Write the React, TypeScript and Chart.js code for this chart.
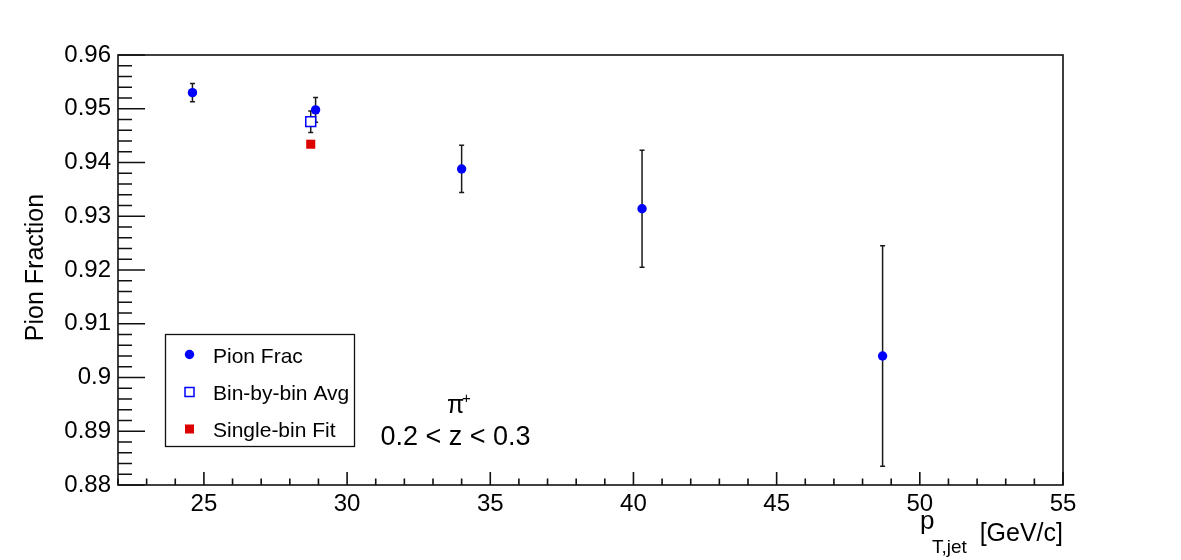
import React, { useEffect, useRef } from 'react';
import { Chart, registerables } from 'chart.js';

Chart.register(...registerables);

// ---- data ----
const pionX = [24.6, 28.9, 34.0, 40.3, 48.7];
const pionY = [0.953, 0.9498, 0.9388, 0.9314, 0.904];
const pionErr = [0.0017, 0.0023, 0.0044, 0.0109, 0.0205];

const avgX = [28.73];
const avgY = [0.9476];
const avgErr = [0.002];

const fitX = [28.73];
const fitY = [0.9434];

const xTickValues = [25, 30, 35, 40, 45, 50, 55];
const yTickValues = [0.88, 0.89, 0.9, 0.91, 0.92, 0.93, 0.94, 0.95, 0.96];

const legendLabels = ['Pion Frac', 'Bin-by-bin Avg', 'Single-bin Fit'];
const yTitle = 'Pion Fraction';
const annotationLine1 = 'π';
const annotationSup = '+';
const annotationLine2 = '0.2 < z < 0.3';

const X_MIN = 22;
const X_MAX = 55;
const Y_MIN = 0.88;
const Y_MAX = 0.96;

const BLUE = '#0000ff';
const RED = '#dd0000';
const INK = '#111111';
const FONT = '"Liberation Sans", Arial, Helvetica, sans-serif';

const rootStyle = {
  id: 'rootStyle',
  beforeDatasetsDraw(chart: any) {
    const ctx = chart.ctx as CanvasRenderingContext2D;
    const xs = chart.scales.x;
    const ys = chart.scales.y;
    ctx.save();
    ctx.strokeStyle = '#1a1a1a';
    ctx.lineWidth = 1.5;
    const drawErr = (xv: number[], yv: number[], ev: number[]) => {
      xv.forEach((x, i) => {
        const px = xs.getPixelForValue(x);
        const pTop = ys.getPixelForValue(yv[i] + ev[i]);
        const pBot = ys.getPixelForValue(yv[i] - ev[i]);
        ctx.beginPath();
        ctx.moveTo(px, pTop);
        ctx.lineTo(px, pBot);
        ctx.moveTo(px - 2.5, pTop);
        ctx.lineTo(px + 2.5, pTop);
        ctx.moveTo(px - 2.5, pBot);
        ctx.lineTo(px + 2.5, pBot);
        ctx.stroke();
      });
    };
    drawErr(avgX, avgY, avgErr);
    drawErr(pionX, pionY, pionErr);
    ctx.restore();
  },
  afterDatasetsDraw(chart: any) {
    const ctx = chart.ctx as CanvasRenderingContext2D;
    const xs = chart.scales.x;
    const ys = chart.scales.y;
    const { left, right, top, bottom } = chart.chartArea;
    ctx.save();
    // frame
    ctx.strokeStyle = INK;
    ctx.lineWidth = 1.6;
    ctx.strokeRect(left, top, right - left, bottom - top);
    // x ticks
    ctx.beginPath();
    for (let v = Math.ceil(X_MIN); v <= X_MAX; v++) {
      const px = xs.getPixelForValue(v);
      const len = v % 5 === 0 ? 13 : 6.5;
      ctx.moveTo(px, bottom);
      ctx.lineTo(px, bottom - len);
    }
    // y ticks
    const nMinor = Math.round((Y_MAX - Y_MIN) / 0.002);
    for (let k = 0; k <= nMinor; k++) {
      const v = Y_MIN + k * 0.002;
      const py = ys.getPixelForValue(v);
      const len = k % 5 === 0 ? 27 : 14;
      ctx.moveTo(left, py);
      ctx.lineTo(left + len, py);
    }
    ctx.stroke();

    // legend
    const lx = 165.5, ly = 334.5, lw = 189, lh = 112;
    ctx.fillStyle = '#fff';
    ctx.fillRect(lx, ly, lw, lh);
    ctx.lineWidth = 1.3;
    ctx.strokeStyle = INK;
    ctx.strokeRect(lx, ly, lw, lh);
    const mx = 189.5;
    // circle
    ctx.fillStyle = BLUE;
    ctx.beginPath();
    ctx.arc(mx, 354.5, 4.7, 0, Math.PI * 2);
    ctx.fill();
    // open square
    ctx.strokeStyle = BLUE;
    ctx.lineWidth = 1.5;
    ctx.strokeRect(mx - 4.5, 392 - 4.5, 9, 9);
    // red square
    ctx.fillStyle = RED;
    ctx.fillRect(mx - 4.5, 429 - 4.5, 9, 9);

    ctx.fillStyle = '#000';
    ctx.font = `21px ${FONT}`;
    ctx.textAlign = 'left';
    ctx.textBaseline = 'alphabetic';
    ctx.fillText(legendLabels[0], 213, 363);
    ctx.fillText(legendLabels[1], 213, 400);
    ctx.fillText(legendLabels[2], 213, 437);

    // annotation
    ctx.font = `25px ${FONT}`;
    ctx.fillText(annotationLine1, 447, 413);
    ctx.font = `15px ${FONT}`;
    ctx.fillText(annotationSup, 462, 403);
    ctx.font = `27px ${FONT}`;
    ctx.textAlign = 'center';
    ctx.fillText(annotationLine2, 455.5, 445);

    // x title
    ctx.textAlign = 'left';
    ctx.font = `26px ${FONT}`;
    ctx.fillText('p', 920, 529);
    ctx.font = `19px ${FONT}`;
    ctx.fillText('T,jet', 932, 553);
    ctx.textAlign = 'right';
    ctx.font = `25px ${FONT}`;
    ctx.fillText('[GeV/c]', 1063, 541);

    // y title
    ctx.save();
    ctx.translate(42.5, 267.5);
    ctx.rotate(-Math.PI / 2);
    ctx.textAlign = 'center';
    ctx.font = `25px ${FONT}`;
    ctx.fillText(yTitle, 0, 0);
    ctx.restore();

    ctx.restore();
  },
};

export default function App() {
  const ref = useRef<HTMLCanvasElement>(null);
  useEffect(() => {
    const canvas = ref.current!;
    const tickFont = { family: FONT, size: 24 };
    const chart = new Chart(canvas, {
      type: 'scatter',
      data: {
        datasets: [
          {
            label: legendLabels[0],
            data: pionX.map((x, i) => ({ x, y: pionY[i] })),
            pointStyle: 'circle',
            pointRadius: 4.7,
            backgroundColor: BLUE,
            borderColor: BLUE,
            borderWidth: 0,
          },
          {
            label: legendLabels[1],
            data: avgX.map((x, i) => ({ x, y: avgY[i] })),
            pointStyle: 'rect',
            pointRadius: 7,
            backgroundColor: '#ffffff',
            borderColor: BLUE,
            borderWidth: 1.5,
          },
          {
            label: legendLabels[2],
            data: fitX.map((x, i) => ({ x, y: fitY[i] })),
            pointStyle: 'rect',
            pointRadius: 6.4,
            backgroundColor: RED,
            borderColor: RED,
            borderWidth: 0,
          },
        ],
      },
      options: {
        animation: false,
        responsive: false,
        events: [],
        layout: { padding: { top: 55, right: 118, left: 0, bottom: 0 } },
        plugins: { legend: { display: false }, tooltip: { enabled: false } },
        scales: {
          x: {
            type: 'linear',
            min: X_MIN,
            max: X_MAX,
            grid: { display: false, drawTicks: false },
            border: { display: false },
            afterBuildTicks: (s: any) => {
              s.ticks = xTickValues.map((v) => ({ value: v }));
            },
            afterFit: (s: any) => {
              s.height = 75;
            },
            ticks: {
              font: tickFont,
              color: '#000',
              padding: 5,
              maxRotation: 0,
              autoSkip: false,
              callback: (v: any) => String(v),
            },
          },
          y: {
            type: 'linear',
            min: Y_MIN,
            max: Y_MAX,
            grid: { display: false, drawTicks: false },
            border: { display: false },
            afterBuildTicks: (s: any) => {
              s.ticks = yTickValues.map((v) => ({ value: v }));
            },
            afterFit: (s: any) => {
              s.width = 118;
            },
            ticks: {
              font: tickFont,
              color: '#000',
              padding: 7,
              autoSkip: false,
              callback: (v: any) => String(+Number(v).toFixed(2)),
            },
          },
        },
      },
      plugins: [rootStyle],
    } as any);
    return () => chart.destroy();
  }, []);
  return (
    <div style={{ position: 'absolute', left: 0, top: 0, width: 1181, height: 560, background: '#fff' }}>
      <canvas ref={ref} width={1181} height={560} style={{ display: 'block' }} />
    </div>
  );
}
